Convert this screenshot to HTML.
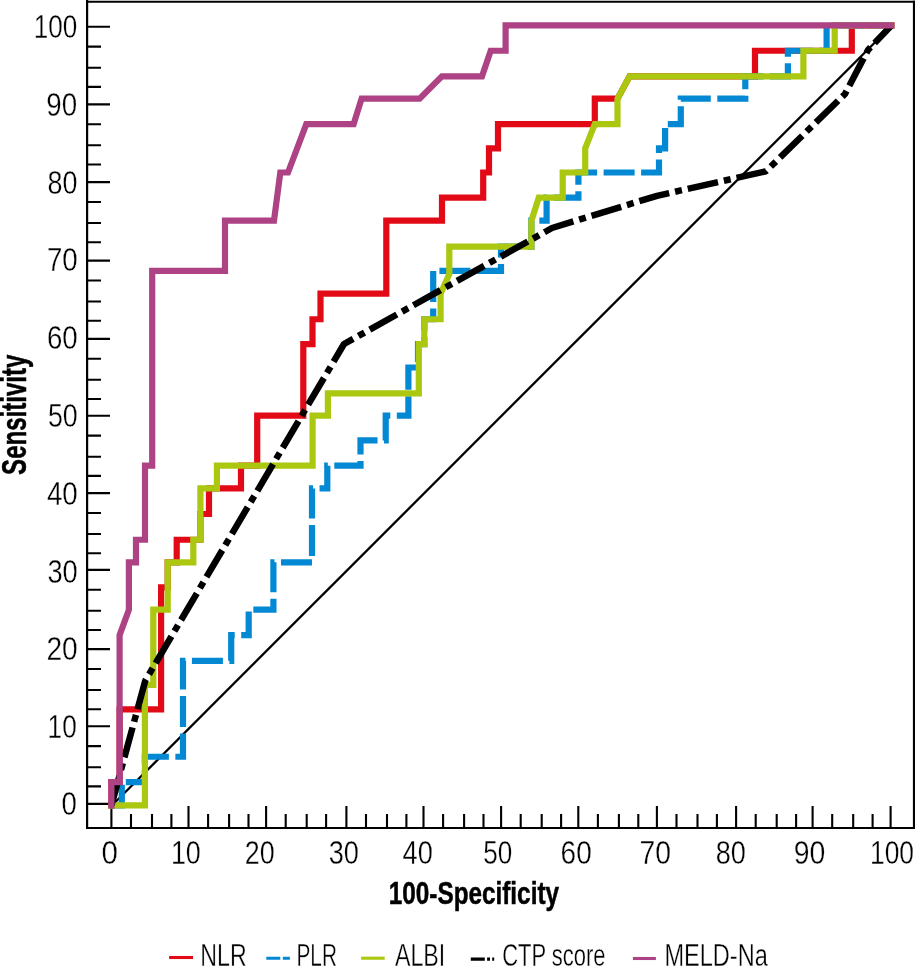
<!DOCTYPE html>
<html><head><meta charset="utf-8"><style>html,body{margin:0;padding:0;background:#fff;overflow:hidden}svg{display:block;will-change:transform}</style></head>
<body><svg width="915" height="967" viewBox="0 0 915 967">
<rect x="0" y="0" width="915" height="967" fill="#fff"/>
<path d="M87.1,0 V829 M86.1,828 H915 M86.1,1.75 H915 M914,0.5 V829" stroke="#000" stroke-width="2.2" fill="none"/>
<path d="M87,803.90 H110 M87,726.30 H110 M87,649.10 H110 M87,569.90 H110 M87,493.10 H110 M87,415.80 H110 M87,338.90 H110 M87,260.65 H110 M87,182.15 H110 M87,104.40 H110 M87,26.80 H110 M111.40,828 V806 M188.50,828 V806 M266.10,828 V806 M346.40,828 V806 M423.50,828 V806 M501.10,828 V806 M578.30,828 V806 M656.90,828 V806 M736.10,828 V806 M812.60,828 V806 M890.60,828 V806 M87,746.15 H101 M87,767.20 H101 M87,786.40 H101 M131.00,828 V814 M152.00,828 V814 M171.40,828 V814 M87,668.95 H101 M87,690.00 H101 M87,709.20 H101 M208.10,828 V814 M229.10,828 V814 M248.50,828 V814 M87,589.75 H101 M87,610.80 H101 M87,630.00 H101 M285.70,828 V814 M306.70,828 V814 M326.10,828 V814 M87,512.95 H101 M87,534.00 H101 M87,553.20 H101 M366.00,828 V814 M387.00,828 V814 M406.40,828 V814 M87,435.65 H101 M87,456.70 H101 M87,475.90 H101 M443.10,828 V814 M464.10,828 V814 M483.50,828 V814 M87,358.75 H101 M87,379.80 H101 M87,399.00 H101 M520.70,828 V814 M541.70,828 V814 M561.10,828 V814 M87,280.50 H101 M87,301.55 H101 M87,320.75 H101 M597.90,828 V814 M618.90,828 V814 M638.30,828 V814 M87,202.00 H101 M87,223.05 H101 M87,242.25 H101 M676.50,828 V814 M697.50,828 V814 M716.90,828 V814 M87,124.25 H101 M87,145.30 H101 M87,164.50 H101 M755.70,828 V814 M776.70,828 V814 M796.10,828 V814 M87,46.65 H101 M87,67.70 H101 M87,86.90 H101 M832.20,828 V814 M853.20,828 V814 M872.60,828 V814" stroke="#000" stroke-width="2.1" fill="none"/>
<line x1="111.4" y1="806.05" x2="891.4" y2="26.05" stroke="#000" stroke-width="2.3"/>
<polyline points="111.4,805.35 111.4,782.2 119.6,782.2 119.6,709.45 161.1,709.45 161.1,587.4 167.7,587.4 167.7,562.35 176.7,562.35 176.7,539.73 200.4,539.73 200.4,514 209,514 209,488.43 241,488.43 241,465.68 257.2,465.68 257.2,415.67 303.3,415.67 303.3,344.03 312.5,344.03 312.5,319.27 320.5,319.27 320.5,293.7 386.3,293.7 386.3,220.7 442,220.7 442,197.58 483.2,197.58 483.2,172.5 489,172.5 489,148.4 498,148.4 498,124.18 594.8,124.18 594.8,98.67 617.5,98.67 629.6,76.3 755,76.3 755,50.77 851.8,50.77 851.8,25.36 891.4,25.36" fill="none" stroke="#e20a17" stroke-width="6.2" stroke-linejoin="miter" stroke-linecap="square"/>
<polyline points="111.4,805.35 121.8,805.35 121.8,782.2 144.9,782.2 144.9,756.75 183,756.75 183,660.8 231.2,660.8 231.2,635.1 248.7,635.1 248.7,609.7 273.4,609.7 273.4,562.35 312,562.35 312,488.43 327.3,488.43 327.3,465.68 360.5,465.68 360.5,440.4 385.7,440.4 385.7,415.67 408.4,415.67 408.4,367.5 418,367.5 418,344.03 424.3,344.03 424.3,319.27 433.2,319.27 433.2,270.8 501,270.8 501,246.53 531.4,246.53 531.4,220.7 546.6,220.7 546.6,197.58 578.4,197.58 578.4,172.5 659,172.5 659,148.4 665.1,148.4 665.1,124.18 680.8,124.18 680.8,98.67 745.3,98.67 745.3,76.3 787.9,76.3 787.9,50.77 826.6,50.77 826.6,25.36 891.4,25.36" fill="none" stroke="#0389d3" stroke-width="6.2" stroke-dasharray="31 6.5" stroke-dashoffset="-0.07" stroke-linejoin="miter" stroke-linecap="butt"/>
<polyline points="111.4,805.35 144.9,805.35 144.9,685 153.3,685 153.3,609.7 167.7,609.7 167.7,562.35 193.3,562.35 193.3,539.73 200.4,539.73 200.4,488.43 216.9,488.43 216.9,465.68 312.6,465.68 312.6,415.67 327.9,415.67 327.9,393.45 418.8,393.45 418.8,344.03 424.3,344.03 424.3,319.27 440.6,319.27 440.6,293.7 449.3,274 449.3,246.53 531.4,246.53 531.4,220.7 538.8,197.58 562.7,197.58 562.7,172.5 585.2,172.5 585.2,148.4 594.8,124.18 617.5,124.18 617.5,98.67 629.6,76.3 803.4,76.3 803.4,50.77 834.7,50.77 834.7,25.36 891.4,25.36" fill="none" stroke="#abc70f" stroke-width="6.2" stroke-linejoin="miter" stroke-linecap="square"/>
<polyline points="111.4,805.4 145.3,680.6 344,344 552,228 657,195.8 765.9,171.3 845,94 868,50 891.4,25.4" fill="none" stroke="#000" stroke-width="6.5" stroke-dasharray="31 6 7 6" stroke-dashoffset="0.3" stroke-linejoin="round"/>
<polyline points="111.4,805.35 111.4,782.2 119.6,782.2 119.6,635.1 128.9,609.7 128.9,562.35 136,562.35 136,539.73 145,539.73 145,465.68 152.2,465.68 152.2,270.8 225,270.8 225,220.7 274,220.7 280.3,172.5 288,172.5 306.3,124.18 353.6,124.18 361.6,98.67 419.6,98.67 441.9,76.3 482,76.3 490.7,50.77 505.6,50.77 505.6,25.36 891.4,25.36" fill="none" stroke="#ad4285" stroke-width="6.2" stroke-linejoin="miter" stroke-linecap="square"/>
<text x="61.60" y="815.25" font-size="34.08" font-weight="normal" font-family="Liberation Sans, sans-serif" textLength="15.30" lengthAdjust="spacingAndGlyphs" stroke="#fff" stroke-width="0.35">0</text>
<text x="47.60" y="737.80" font-size="34.07" font-weight="normal" font-family="Liberation Sans, sans-serif" textLength="29.10" lengthAdjust="spacingAndGlyphs" stroke="#fff" stroke-width="0.35">10</text>
<text x="46.40" y="659.78" font-size="34.07" font-weight="normal" font-family="Liberation Sans, sans-serif" textLength="31.30" lengthAdjust="spacingAndGlyphs" stroke="#fff" stroke-width="0.35">20</text>
<text x="47.40" y="582.52" font-size="34.06" font-weight="normal" font-family="Liberation Sans, sans-serif" textLength="30.30" lengthAdjust="spacingAndGlyphs" stroke="#fff" stroke-width="0.35">30</text>
<text x="46.90" y="504.76" font-size="34.06" font-weight="normal" font-family="Liberation Sans, sans-serif" textLength="30.80" lengthAdjust="spacingAndGlyphs" stroke="#fff" stroke-width="0.35">40</text>
<text x="47.90" y="427.00" font-size="34.07" font-weight="normal" font-family="Liberation Sans, sans-serif" textLength="29.80" lengthAdjust="spacingAndGlyphs" stroke="#fff" stroke-width="0.35">50</text>
<text x="46.90" y="349.24" font-size="33.47" font-weight="normal" font-family="Liberation Sans, sans-serif" textLength="30.80" lengthAdjust="spacingAndGlyphs" stroke="#fff" stroke-width="0.35">60</text>
<text x="46.90" y="271.48" font-size="34.06" font-weight="normal" font-family="Liberation Sans, sans-serif" textLength="30.80" lengthAdjust="spacingAndGlyphs" stroke="#fff" stroke-width="0.35">70</text>
<text x="47.60" y="193.80" font-size="34.07" font-weight="normal" font-family="Liberation Sans, sans-serif" textLength="29.90" lengthAdjust="spacingAndGlyphs" stroke="#fff" stroke-width="0.35">80</text>
<text x="46.30" y="116.20" font-size="34.05" font-weight="normal" font-family="Liberation Sans, sans-serif" textLength="30.80" lengthAdjust="spacingAndGlyphs" stroke="#fff" stroke-width="0.35">90</text>
<text x="33.80" y="38.30" font-size="34.08" font-weight="normal" font-family="Liberation Sans, sans-serif" textLength="43.50" lengthAdjust="spacingAndGlyphs" stroke="#fff" stroke-width="0.35">100</text>
<text x="101.50" y="863.90" font-size="34.07" font-weight="normal" font-family="Liberation Sans, sans-serif" textLength="16.40" lengthAdjust="spacingAndGlyphs" stroke="#fff" stroke-width="0.35">0</text>
<text x="170.90" y="863.90" font-size="34.07" font-weight="normal" font-family="Liberation Sans, sans-serif" textLength="29.90" lengthAdjust="spacingAndGlyphs" stroke="#fff" stroke-width="0.35">10</text>
<text x="244.80" y="863.90" font-size="34.07" font-weight="normal" font-family="Liberation Sans, sans-serif" textLength="29.90" lengthAdjust="spacingAndGlyphs" stroke="#fff" stroke-width="0.35">20</text>
<text x="328.70" y="863.90" font-size="34.07" font-weight="normal" font-family="Liberation Sans, sans-serif" textLength="30.20" lengthAdjust="spacingAndGlyphs" stroke="#fff" stroke-width="0.35">30</text>
<text x="402.60" y="863.90" font-size="34.07" font-weight="normal" font-family="Liberation Sans, sans-serif" textLength="30.20" lengthAdjust="spacingAndGlyphs" stroke="#fff" stroke-width="0.35">40</text>
<text x="483.25" y="863.90" font-size="34.07" font-weight="normal" font-family="Liberation Sans, sans-serif" textLength="29.05" lengthAdjust="spacingAndGlyphs" stroke="#fff" stroke-width="0.35">50</text>
<text x="560.60" y="863.90" font-size="34.07" font-weight="normal" font-family="Liberation Sans, sans-serif" textLength="31.10" lengthAdjust="spacingAndGlyphs" stroke="#fff" stroke-width="0.35">60</text>
<text x="639.50" y="863.90" font-size="34.07" font-weight="normal" font-family="Liberation Sans, sans-serif" textLength="31.50" lengthAdjust="spacingAndGlyphs" stroke="#fff" stroke-width="0.35">70</text>
<text x="715.80" y="863.90" font-size="34.07" font-weight="normal" font-family="Liberation Sans, sans-serif" textLength="30.10" lengthAdjust="spacingAndGlyphs" stroke="#fff" stroke-width="0.35">80</text>
<text x="793.70" y="863.90" font-size="34.07" font-weight="normal" font-family="Liberation Sans, sans-serif" textLength="31.60" lengthAdjust="spacingAndGlyphs" stroke="#fff" stroke-width="0.35">90</text>
<text x="870.00" y="863.90" font-size="34.07" font-weight="normal" font-family="Liberation Sans, sans-serif" textLength="44.00" lengthAdjust="spacingAndGlyphs" stroke="#fff" stroke-width="0.35">100</text>
<text x="388.80" y="903.70" font-size="31.09" font-weight="bold" font-family="Liberation Sans, sans-serif" textLength="170.20" lengthAdjust="spacingAndGlyphs" stroke="#000" stroke-width="0.5">100-Specificity</text>
<g transform="translate(25.60,474.90) rotate(-90)"><text x="0.00" y="0.00" font-size="34.24" font-weight="bold" font-family="Liberation Sans, sans-serif" textLength="120.20" lengthAdjust="spacingAndGlyphs" stroke="#000" stroke-width="0.5">Sensitivity</text></g>
<text x="200.30" y="965.60" font-size="31.00" font-weight="normal" font-family="Liberation Sans, sans-serif" textLength="46.30" lengthAdjust="spacingAndGlyphs" stroke="#fff" stroke-width="0.35">NLR</text>
<text x="296.50" y="965.60" font-size="31.00" font-weight="normal" font-family="Liberation Sans, sans-serif" textLength="40.40" lengthAdjust="spacingAndGlyphs" stroke="#fff" stroke-width="0.35">PLR</text>
<text x="395.00" y="965.60" font-size="31.00" font-weight="normal" font-family="Liberation Sans, sans-serif" textLength="50.30" lengthAdjust="spacingAndGlyphs" stroke="#fff" stroke-width="0.35">ALBI</text>
<text x="502.20" y="965.60" font-size="31.00" font-weight="normal" font-family="Liberation Sans, sans-serif" textLength="103.40" lengthAdjust="spacingAndGlyphs" stroke="#fff" stroke-width="0.35">CTP score</text>
<text x="664.40" y="965.60" font-size="31.00" font-weight="normal" font-family="Liberation Sans, sans-serif" textLength="103.40" lengthAdjust="spacingAndGlyphs" stroke="#fff" stroke-width="0.35">MELD-Na</text>
<line x1="169.1" y1="957.5" x2="193" y2="957.5" stroke="#e20a17" stroke-width="3.1"/>
<line x1="266.3" y1="958.2" x2="289.9" y2="958.2" stroke="#0389d3" stroke-width="3.1" stroke-dasharray="14 2.5 7.1 10"/>
<line x1="361.1" y1="958.2" x2="384.7" y2="958.2" stroke="#abc70f" stroke-width="3.1"/>
<line x1="470.8" y1="959.1" x2="494.2" y2="959.1" stroke="#000" stroke-width="3.2" stroke-dasharray="14 2.3 2.9 2.2 2 10"/>
<line x1="632.9" y1="958.5" x2="655.9" y2="958.5" stroke="#ad4285" stroke-width="3.1"/>
</svg></body></html>
